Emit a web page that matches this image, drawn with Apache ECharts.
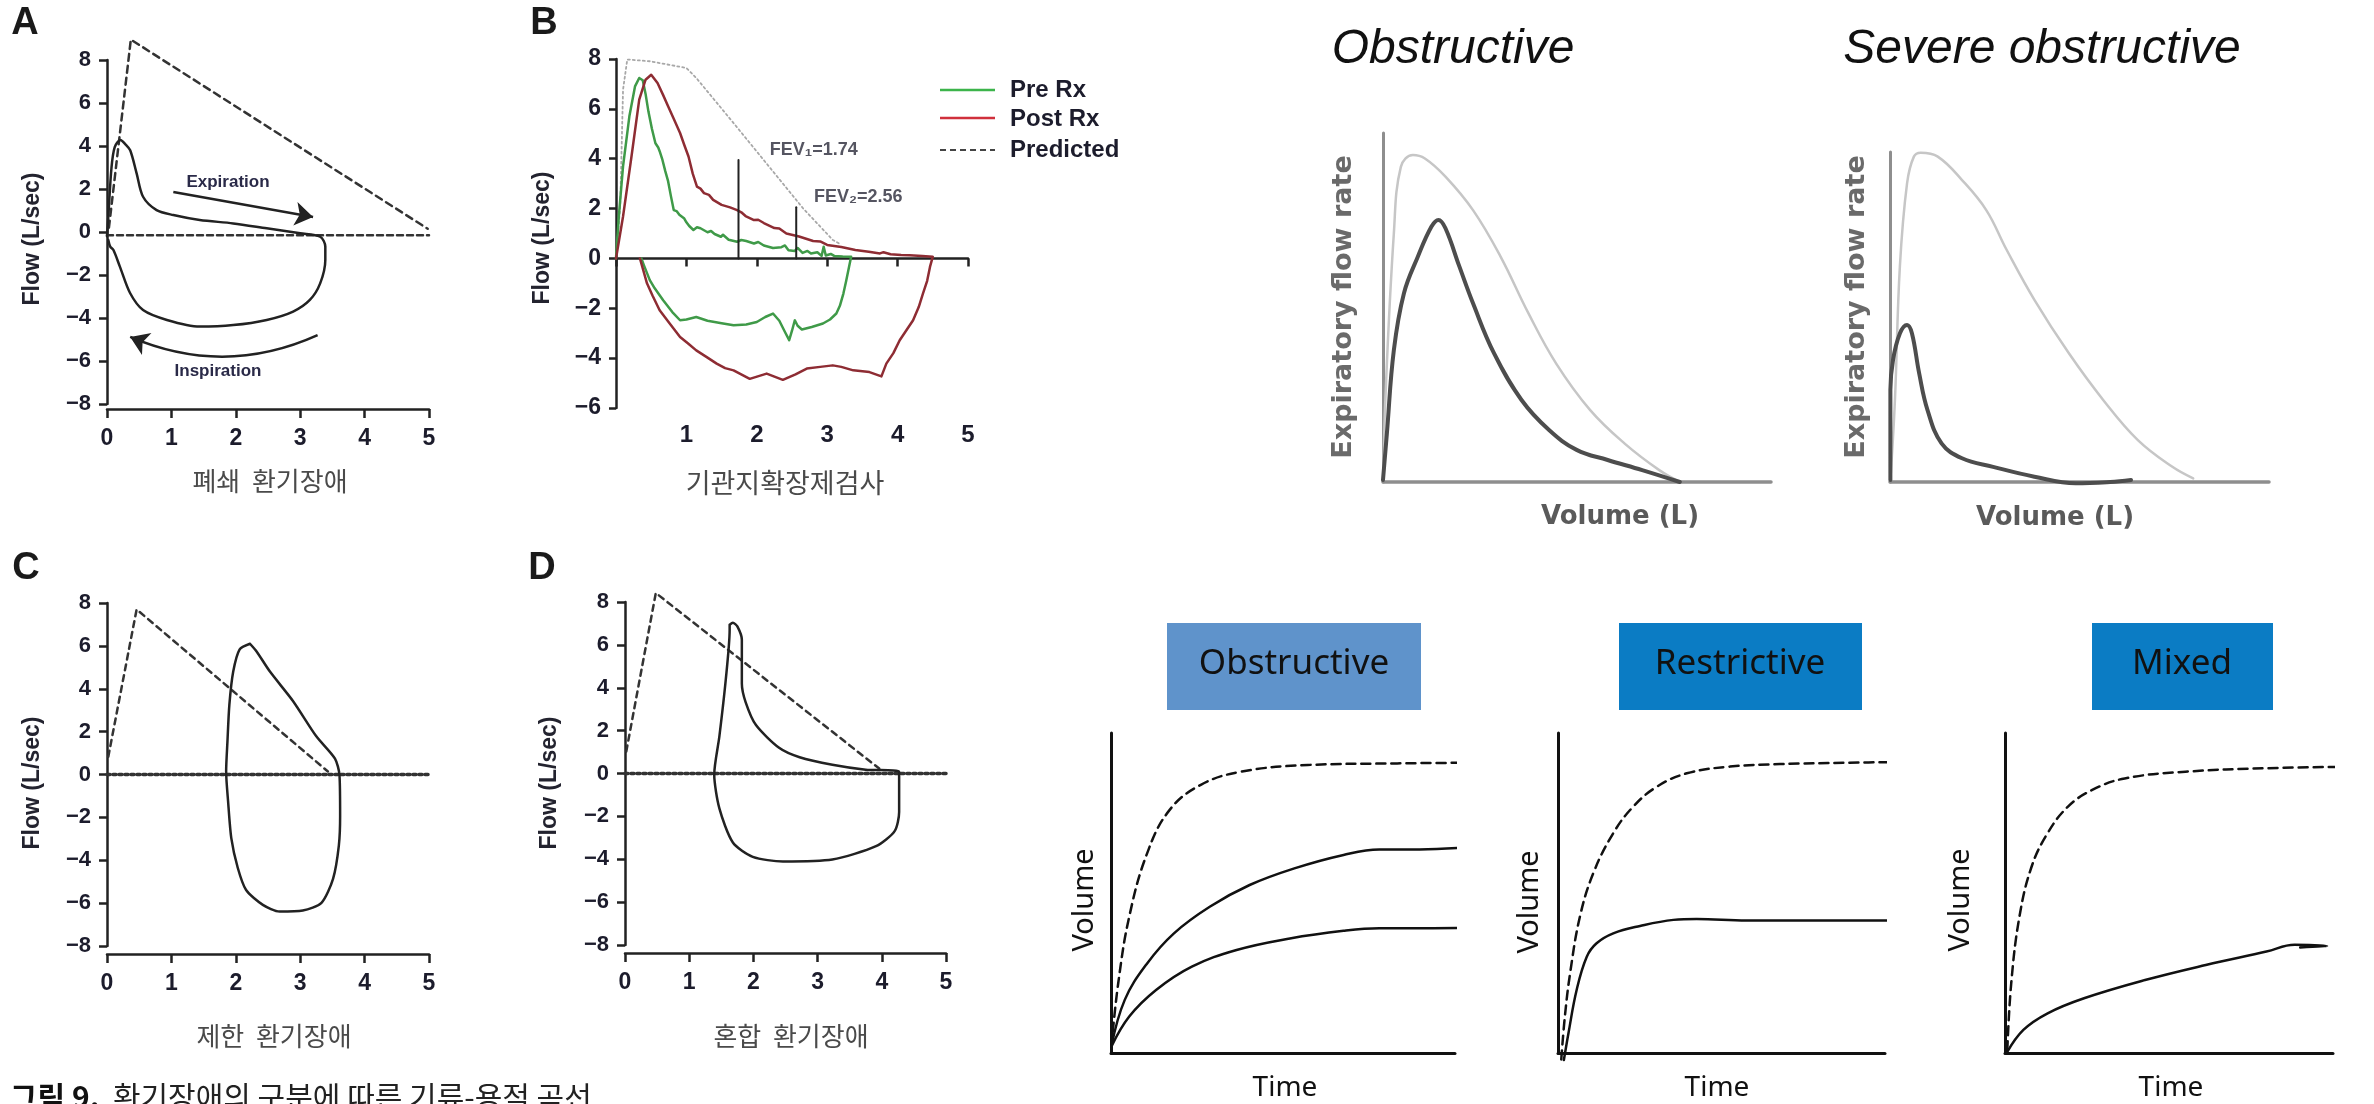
<!DOCTYPE html>
<html>
<head>
<meta charset="utf-8">
<title>환기장애의 구분에 따른 기류-용적 곡선</title>
<script src="https://cdn.jsdelivr.net/npm/echarts/dist/echarts.min.js"></script>
<style>
  html, body { margin: 0; padding: 0; background: #fff; }
  #c { width: 2374px; height: 1104px; }
</style>
</head>
<body>
<div id="c"></div>
<script>
// ---------- Flow-volume loops (volume in L, flow in L/sec) ----------
const volumeTicks = [0, 1, 2, 3, 4, 5];
const loopFlowTicks = [-8, -6, -4, -2, 0, 2, 4, 6, 8];
const bronchoFlowTicks = [-6, -4, -2, 0, 2, 4, 6, 8];

// A: obstructive
const loopA = [[0,-0.2],[0.02,0.7],[0.07,3.0],[0.12,3.95],[0.21,4.28],[0.28,4.1],[0.36,3.8],[0.46,2.73],[0.56,1.64],[0.77,1.02],[1.03,0.79],[1.44,0.56],[1.96,0.4],[2.48,0.17],[3.0,-0.06],[3.31,-0.22],[3.39,-0.68],[3.39,-1.3],[3.31,-2.39],[3.15,-3.16],[2.89,-3.7],[2.48,-4.09],[1.96,-4.33],[1.44,-4.4],[0.93,-4.09],[0.56,-3.63],[0.36,-2.85],[0.2,-1.61],[0.1,-0.84],[0.05,-0.68],[0.02,-0.37]];
const predictedA = [[0.03,0.2],[0.37,8.95],[4.98,0.15]];
const baselineA = [[0,-0.15],[5,-0.15]];
const expirationArrow = [[1.03,1.86],[3.2,0.7]];
const inspirationArrow = [[3.27,-4.8],[0.36,-4.88]];

// B: bronchodilator test
const preRx = [[0,0],[0.04,1.68],[0.1,3.69],[0.19,5.7],[0.27,6.9],[0.33,7.24],[0.38,7.15],[0.42,6.6],[0.46,5.9],[0.51,5.2],[0.56,4.62],[0.6,4.45],[0.62,4.3],[0.66,3.95],[0.7,3.5],[0.74,3.1],[0.78,2.5],[0.82,1.94],[0.86,1.9],[0.9,1.75],[0.97,1.6],[1.0,1.45],[1.04,1.3],[1.1,1.14],[1.15,1.25],[1.2,1.21],[1.3,1.05],[1.35,1.1],[1.4,0.98],[1.49,0.87],[1.52,0.95],[1.6,0.75],[1.72,0.67],[1.78,0.74],[1.85,0.7],[1.96,0.6],[2.02,0.66],[2.1,0.52],[2.23,0.42],[2.35,0.45],[2.4,0.52],[2.45,0.33],[2.54,0.3],[2.58,0.42],[2.65,0.22],[2.72,0.3],[2.77,0.2],[2.86,0.25],[2.92,0.1],[2.95,0.47],[2.98,0.12],[3.05,0.18],[3.1,0.1],[3.22,0.08],[3.34,0.07],
  [3.34,0],[3.31,-0.34],[3.27,-0.9],[3.23,-1.41],[3.18,-1.9],[3.13,-2.21],[3.04,-2.45],[2.94,-2.61],[2.78,-2.75],[2.64,-2.85],[2.58,-2.7],[2.54,-2.48],[2.5,-2.9],[2.46,-3.28],[2.4,-2.95],[2.32,-2.5],[2.23,-2.21],[2.12,-2.35],[2.0,-2.55],[1.85,-2.65],[1.67,-2.68],[1.5,-2.6],[1.3,-2.5],[1.14,-2.35],[1.0,-2.45],[0.91,-2.48],[0.8,-2.15],[0.67,-1.68],[0.55,-1.2],[0.48,-0.87],[0.4,-0.3],[0.36,0]];
const postRx = [[0,0],[0.1,1.68],[0.22,4.09],[0.33,6.37],[0.42,7.17],[0.5,7.37],[0.59,7.04],[0.67,6.55],[0.74,6.1],[0.82,5.6],[0.91,5.03],[0.97,4.55],[1.03,4.09],[1.09,3.4],[1.15,2.88],[1.2,2.8],[1.25,2.62],[1.32,2.55],[1.38,2.35],[1.5,2.15],[1.62,2.05],[1.72,1.94],[1.78,1.85],[1.84,1.7],[1.96,1.54],[2.02,1.55],[2.1,1.42],[2.25,1.22],[2.32,1.2],[2.42,1.0],[2.6,0.88],[2.8,0.7],[2.9,0.68],[3.0,0.54],[3.2,0.46],[3.4,0.34],[3.59,0.27],[3.75,0.2],[3.8,0.25],[3.9,0.17],[4.05,0.14],[4.17,0.13],[4.35,0.1],[4.5,0.07],
  [4.5,0],[4.46,-0.34],[4.42,-0.9],[4.36,-1.41],[4.3,-1.95],[4.22,-2.48],[4.12,-2.9],[4.03,-3.28],[3.94,-3.8],[3.84,-4.22],[3.77,-4.73],[3.6,-4.56],[3.37,-4.49],[3.2,-4.35],[3.08,-4.29],[2.9,-4.35],[2.71,-4.42],[2.55,-4.65],[2.37,-4.87],[2.14,-4.62],[1.9,-4.83],[1.67,-4.49],[1.55,-4.4],[1.43,-4.22],[1.3,-3.98],[1.14,-3.69],[1.02,-3.4],[0.91,-3.15],[0.76,-2.6],[0.62,-2.08],[0.52,-1.5],[0.44,-1.0],[0.38,-0.4],[0.34,0]];
const predictedB = [[0,0],[0.06,2.1],[0.1,6.77],[0.16,7.98],[0.48,7.91],[1.0,7.64],[1.14,7.24],[1.67,5.43],[2.66,2.0],[3.08,0.74],[3.2,0.55]];
const fevNames = ['FEV\u2081', 'FEV\u2082'];
const fevVolumes = [1.74, 2.56];
const fevHeights = [3.95, 2.05];
const fevLabelAt = [[2.81, 4.33], [3.44, 2.45]];

// C: restrictive
const loopC = [[2.22,6.1],[2.06,5.84],[1.96,4.8],[1.9,3.25],[1.87,1.52],[1.85,0.14],[1.88,-1.24],[1.93,-2.97],[2.03,-4.35],[2.16,-5.39],[2.42,-6.08],[2.68,-6.39],[3.04,-6.34],[3.33,-5.99],[3.51,-4.87],[3.6,-3.32],[3.62,-1.93],[3.61,-0.03],[3.54,0.74],[3.25,1.78],[2.89,3.42],[2.53,4.8],[2.32,5.75],[2.22,6.1]];
const predictedC = [[0.02,0.83],[0.46,7.7],[3.43,0.14]];

// D: mixed
const loopD = [[1.63,6.94],[1.68,7.03],[1.75,6.86],[1.82,6.24],[1.82,4.2],[1.88,3.32],[2.04,2.26],[2.4,1.2],[2.72,0.76],[3.23,0.41],[3.75,0.18],[4.27,0.09],[4.27,-1.8],[4.2,-2.69],[3.91,-3.39],[3.23,-4.01],[2.46,-4.1],[1.99,-3.89],[1.68,-3.22],[1.47,-1.63],[1.39,-0.04],[1.47,1.73],[1.57,4.39],[1.63,6.69],[1.63,6.94]];
const predictedD = [[0.02,1.03],[0.48,8.42],[3.96,0.23]];
const zeroLine = [[0,0],[5,0]];

// ---------- Expiratory flow-volume sketches (relative units 0-10) ----------
const fvObstructivePredicted = [[0.01,0.06],[0.06,2.35],[0.28,7.13],[0.46,9.03],[0.77,9.37],[1.08,9.27],[1.61,8.75],[2.32,7.79],[3.03,6.46],[3.75,4.83],[4.46,3.4],[5.34,2.06],[6.23,1.1],[7.12,0.34],[7.65,0]];
const fvObstructiveMeasured = [[0,0.06],[0.1,1.39],[0.28,3.78],[0.54,5.41],[0.9,6.46],[1.25,7.32],[1.43,7.51],[1.61,7.27],[1.97,6.17],[2.32,5.12],[2.86,3.69],[3.57,2.35],[4.28,1.49],[4.99,0.92],[5.79,0.63],[6.68,0.34],[7.65,0]];
const fvSeverePredicted = [[0.01,0.06],[0.13,2.48],[0.26,6.52],[0.45,9.05],[0.63,9.86],[0.81,9.98],[1.26,9.86],[1.9,9.15],[2.54,8.24],[3.08,7.03],[3.81,5.52],[4.72,3.9],[5.63,2.48],[6.54,1.27],[7.45,0.46],[8.0,0.11]];
const fvSevereMeasured = [[0.01,0.06],[0.01,2.79],[0.08,3.7],[0.26,4.5],[0.45,4.76],[0.58,4.5],[0.77,3.29],[0.99,2.18],[1.36,1.17],[1.9,0.72],[2.72,0.46],[3.81,0.16],[4.9,-0.04],[5.81,0],[6.36,0.06]];

// ---------- Volume-time sketches (relative units 0-10) ----------
const vtObstructivePredicted = [[0.01,0.2],[0.21,2.18],[0.53,4.26],[1.05,6.24],[1.7,7.59],[2.61,8.38],[3.78,8.79],[5.72,9.0],[8.32,9.05],[10.26,9.07]];
const vtObstructiveMild = [[0.01,0.2],[0.4,1.66],[1.05,2.8],[1.83,3.74],[2.87,4.57],[4.03,5.25],[5.33,5.77],[6.76,6.19],[7.8,6.36],[8.97,6.36],[10.4,6.43]];
const vtObstructiveSevere = [[0.01,0.2],[0.53,1.14],[1.31,1.97],[2.35,2.7],[3.65,3.22],[5.2,3.58],[6.76,3.82],[7.8,3.9],[9.36,3.9],[10.46,3.91]];
const vtRestrictivePredicted = [[0.1,-0.2],[0.21,1.14],[0.37,2.49],[0.67,4.26],[1.08,5.62],[1.69,6.87],[2.3,7.7],[3.02,8.32],[3.94,8.74],[5.26,8.95],[6.79,9.03],[8.83,9.07],[10.87,9.1]];
const vtRestrictiveMeasured = [[0.18,-0.22],[0.32,0.62],[0.57,1.97],[0.88,3.01],[1.18,3.43],[1.69,3.74],[2.51,3.97],[3.53,4.16],[4.24,4.19],[5.77,4.14],[7.81,4.14],[10.41,4.14]];
const vtMixedPredicted = [[0.07,0.09],[0.19,2.18],[0.44,4.26],[0.81,5.82],[1.3,6.87],[1.92,7.7],[2.66,8.22],[3.65,8.58],[5.5,8.79],[7.97,8.9],[10.8,8.95]];
const vtMixedMeasured = [[0.05,0.0],[0.56,0.72],[1.3,1.24],[2.41,1.71],[4.27,2.28],[6.12,2.75],[7.97,3.17],[8.83,3.38],[9.82,3.34],[9.0,3.3]];

const legendNames = ['Pre Rx', 'Post Rx', 'Predicted'];
const patternNames = ['Obstructive', 'Restrictive', 'Mixed'];

// ---------- styling ----------
const INK = '#222';
const NUM = 'Liberation Sans, Arial, Helvetica, sans-serif';
const KR = 'Noto Sans CJK KR, Noto Sans CJK SC, sans-serif';
const GREEN = '#3f9a48';
const RED = '#8e2c33';
const fmtFlow = v => v < 0 ? '\u2212' + Math.abs(v) : String(v);

const gridBoxes = [
  { left: 107,  top: 60,  width: 322, height: 344 },  // A
  { left: 616,  top: 59,  width: 352, height: 349 },  // B
  { left: 107,  top: 603, width: 322, height: 343 },  // C
  { left: 625,  top: 602, width: 321, height: 343 },  // D
  { left: 1383, top: 133, width: 388, height: 349 },  // flow-volume, obstructive
  { left: 1890, top: 152, width: 379, height: 330 },  // flow-volume, severe
  { left: 1111, top: 733, width: 344, height: 320 },  // volume-time, obstructive
  { left: 1558, top: 733, width: 327, height: 320 },  // volume-time, restrictive
  { left: 2005, top: 733, width: 328, height: 320 }   // volume-time, mixed
];
const grid = gridBoxes.map(g => Object.assign({ containLabel: false, outerBoundsMode: 'none' }, g));

function loopX(gi, offset) {
  return {
    gridIndex: gi, type: 'value',
    min: volumeTicks[0], max: volumeTicks[volumeTicks.length - 1], interval: 1, offset,
    axisLine: { show: true, onZero: false, lineStyle: { color: INK, width: 2.5 } },
    axisTick: { show: true, length: 9, lineStyle: { color: INK, width: 2.5 } },
    axisLabel: { show: true, margin: 18, fontSize: 23, fontWeight: 'bold', fontFamily: NUM, color: '#1c1c2c', showMinLabel: true, showMaxLabel: true },
    splitLine: { show: false }
  };
}
function loopY(gi) {
  return {
    gridIndex: gi, type: 'value',
    min: loopFlowTicks[0], max: loopFlowTicks[loopFlowTicks.length - 1], interval: 2,
    axisLine: { show: true, onZero: false, lineStyle: { color: INK, width: 2.5 } },
    axisTick: { show: true, length: 8, lineStyle: { color: INK, width: 2.5 } },
    axisLabel: { show: true, margin: 16, fontSize: 22, fontWeight: 'bold', fontFamily: NUM, color: '#1c1c2c', formatter: fmtFlow, showMinLabel: true, showMaxLabel: true },
    splitLine: { show: false }
  };
}
function plainAxis(gi, color, width) {
  return {
    gridIndex: gi, type: 'value', min: 0, max: 10,
    axisLine: { show: true, onZero: false, lineStyle: { color, width } },
    axisTick: { show: false }, axisLabel: { show: false }, splitLine: { show: false }
  };
}

const xAxis = [
  loopX(0, 5),
  {
    gridIndex: 1, type: 'value', min: 0, max: 5, interval: 1,
    axisLine: { show: true, onZero: true, lineStyle: { color: INK, width: 2.5 } },
    axisTick: { show: true, length: 8, lineStyle: { color: INK, width: 2.5 } },
    axisLabel: { show: true, margin: 15, fontSize: 24, fontWeight: 'bold', fontFamily: NUM, color: '#1c1c2c', formatter: v => v === 0 ? '' : String(v), showMaxLabel: true },
    splitLine: { show: false }
  },
  loopX(2, 8),
  loopX(3, 8),
  plainAxis(4, '#8e8e8e', 3.5),
  plainAxis(5, '#8e8e8e', 3.5),
  plainAxis(6, '#111', 3),
  plainAxis(7, '#111', 3),
  plainAxis(8, '#111', 3)
];
const yAxis = [
  loopY(0),
  {
    gridIndex: 1, type: 'value',
    min: bronchoFlowTicks[0], max: bronchoFlowTicks[bronchoFlowTicks.length - 1], interval: 2,
    axisLine: { show: true, onZero: false, lineStyle: { color: INK, width: 2.5 } },
    axisTick: { show: true, length: 7, lineStyle: { color: INK, width: 2.5 } },
    axisLabel: { show: true, margin: 15, fontSize: 23, fontWeight: 'bold', fontFamily: NUM, color: '#1c1c2c', formatter: fmtFlow, showMinLabel: true, showMaxLabel: true },
    splitLine: { show: false }
  },
  loopY(2),
  loopY(3),
  plainAxis(4, '#8e8e8e', 3),
  plainAxis(5, '#8e8e8e', 3),
  plainAxis(6, '#111', 3),
  plainAxis(7, '#111', 3),
  plainAxis(8, '#111', 3)
];

function curve(gi, data, color, width, opts) {
  opts = opts || {};
  return {
    type: 'line', xAxisIndex: gi, yAxisIndex: gi, data,
    showSymbol: false, symbol: 'none', clip: false, silent: true, animation: false,
    smooth: opts.smooth === undefined ? false : opts.smooth,
    lineStyle: { color, width, type: opts.dash || 'solid', cap: 'round', join: 'round' },
    z: opts.z || 3
  };
}
function arrow(gi, coords, curveness) {
  return {
    type: 'lines', coordinateSystem: 'cartesian2d', xAxisIndex: gi, yAxisIndex: gi,
    symbol: ['none', 'arrow'], symbolSize: 18, silent: true, animation: false,
    lineStyle: { color: INK, width: 2.5, opacity: 1, curveness },
    data: [{ coords }]
  };
}

const series = [
  // A
  curve(0, baselineA, '#333', 2.5, { dash: [6, 4] }),
  curve(0, predictedA, '#333', 2.5, { dash: [7, 5] }),
  curve(0, loopA, INK, 2.5, { smooth: 0.3 }),
  arrow(0, expirationArrow, 0),
  arrow(0, inspirationArrow, 0.22),
  // B
  curve(1, predictedB, '#a8a8a8', 1.8, { dash: [2, 3] }),
  curve(1, preRx, GREEN, 2.5),
  curve(1, postRx, RED, 2.5),
  ...fevVolumes.map((v, i) => curve(1, [[v, 0], [v, fevHeights[i]]], INK, 2, { z: 4 })),
  {
    type: 'scatter', xAxisIndex: 1, yAxisIndex: 1, symbolSize: 0, silent: true, animation: false,
    data: fevLabelAt.map((p, i) => ({ value: p, name: fevNames[i] + '=' + fevVolumes[i].toFixed(2) })),
    label: { show: true, position: 'inside', formatter: p => p.name, fontSize: 18, fontWeight: 'bold', fontFamily: NUM, color: '#2a2a3a' }
  },
  // C
  curve(2, zeroLine, '#333', 3.5, { dash: [3, 3] }),
  curve(2, predictedC, '#333', 2.5, { dash: [6, 5] }),
  curve(2, loopC, INK, 2.5, { smooth: 0.25 }),
  // D
  curve(3, zeroLine, '#333', 3.5, { dash: [3, 3] }),
  curve(3, predictedD, '#333', 2.5, { dash: [6, 5] }),
  curve(3, loopD, INK, 2.5, { smooth: 0.25 }),
  // flow-volume sketches
  curve(4, fvObstructivePredicted, '#c6c6c6', 2.5, { smooth: 0.4 }),
  curve(4, fvObstructiveMeasured, '#4d4d4d', 4, { smooth: 0.4 }),
  curve(5, fvSeverePredicted, '#c6c6c6', 2.5, { smooth: 0.4 }),
  curve(5, fvSevereMeasured, '#4d4d4d', 4, { smooth: 0.4 }),
  // volume-time sketches
  curve(6, vtObstructivePredicted, '#111', 2.5, { smooth: 0.4, dash: [9, 6] }),
  curve(6, vtObstructiveMild, '#111', 2.5, { smooth: 0.4 }),
  curve(6, vtObstructiveSevere, '#111', 2.5, { smooth: 0.4 }),
  curve(7, vtRestrictivePredicted, '#111', 2.5, { smooth: 0.4, dash: [9, 6] }),
  curve(7, vtRestrictiveMeasured, '#111', 2.5, { smooth: 0.4 }),
  curve(8, vtMixedPredicted, '#111', 2.5, { smooth: 0.4, dash: [9, 6] }),
  curve(8, vtMixedMeasured, '#111', 2.5, { smooth: 0.4 })
];

// ---------- free text, legend and boxes ----------
function txt(x, y, text, o) {
  o = o || {};
  return {
    type: 'text', x, y, rotation: o.rot || 0, silent: true,
    style: {
      text, fontSize: o.size || 20, fontFamily: o.family || NUM,
      fontWeight: o.weight || 'normal', fontStyle: o.italic ? 'italic' : 'normal',
      fill: o.color || INK, align: o.align || 'center', verticalAlign: o.valign || 'middle',
      rich: o.rich
    }
  };
}
const ROT = Math.PI / 2;
const graphic = [
  // panel letters
  txt(25, 24, 'A', { size: 38, weight: 'bold', color: '#1a1a1a' }),
  txt(544, 24, 'B', { size: 38, weight: 'bold', color: '#1a1a1a' }),
  txt(26, 569, 'C', { size: 38, weight: 'bold', color: '#1a1a1a' }),
  txt(542, 569, 'D', { size: 38, weight: 'bold', color: '#1a1a1a' }),
  // axis names
  txt(33, 239, 'Flow (L/sec)', { size: 23, weight: 'bold', rot: ROT, color: '#23232f' }),
  txt(543, 238, 'Flow (L/sec)', { size: 23, weight: 'bold', rot: ROT, color: '#23232f' }),
  txt(33, 783, 'Flow (L/sec)', { size: 23, weight: 'bold', rot: ROT, color: '#23232f' }),
  txt(550, 783, 'Flow (L/sec)', { size: 23, weight: 'bold', rot: ROT, color: '#23232f' }),
  // panel subtitles
  txt(270, 481, '폐쇄  환기장애', { size: 26, family: KR, color: '#4a4a4a' }),
  txt(785, 483, '기관지확장제검사', { size: 27, family: KR, color: '#4a4a4a' }),
  txt(274, 1036, '제한  환기장애', { size: 26, family: KR, color: '#4a4a4a' }),
  txt(791, 1036, '혼합  환기장애', { size: 26, family: KR, color: '#4a4a4a' }),
  // A annotations
  txt(228, 182, 'Expiration', { size: 17, weight: 'bold', color: '#2a2a48' }),
  txt(218, 371, 'Inspiration', { size: 17, weight: 'bold', color: '#2a2a48' }),
  // B legend
  { type: 'line', silent: true, shape: { x1: 940, y1: 90, x2: 995, y2: 90 }, style: { stroke: '#3cb44b', lineWidth: 2.5 } },
  { type: 'line', silent: true, shape: { x1: 940, y1: 118, x2: 995, y2: 118 }, style: { stroke: '#d0303c', lineWidth: 2.5 } },
  { type: 'line', silent: true, shape: { x1: 940, y1: 150, x2: 995, y2: 150 }, style: { stroke: '#444', lineWidth: 2, lineDash: [6, 4] } },
  txt(1010, 90, legendNames[0], { size: 24, weight: 'bold', align: 'left', color: '#1c1c2c' }),
  txt(1010, 119, legendNames[1], { size: 24, weight: 'bold', align: 'left', color: '#1c1c2c' }),
  txt(1010, 150, legendNames[2], { size: 24, weight: 'bold', align: 'left', color: '#1c1c2c' }),
  // flow-volume sketch titles and axis names
  txt(1453, 50, 'Obstructive', { size: 48, italic: true, color: '#111' }),
  txt(2042, 50, 'Severe obstructive', { size: 48, italic: true, color: '#111' }),
  txt(1344, 307, 'Expiratory flow rate', { size: 27, weight: 'bold', family: 'DejaVu Sans, sans-serif', rot: ROT, color: '#6a6a6a' }),
  txt(1857, 307, 'Expiratory flow rate', { size: 27, weight: 'bold', family: 'DejaVu Sans, sans-serif', rot: ROT, color: '#6a6a6a' }),
  txt(1620, 517, 'Volume (L)', { size: 26, weight: 'bold', family: 'DejaVu Sans, sans-serif', color: '#5a5a5a' }),
  txt(2055, 518, 'Volume (L)', { size: 26, weight: 'bold', family: 'DejaVu Sans, sans-serif', color: '#5a5a5a' }),
  // volume-time boxes
  { type: 'rect', silent: true, shape: { x: 1167, y: 623, width: 254, height: 87 }, style: { fill: '#5f93cb' } },
  { type: 'rect', silent: true, shape: { x: 1619, y: 623, width: 243, height: 87 }, style: { fill: '#0b7cc4' } },
  { type: 'rect', silent: true, shape: { x: 2092, y: 623, width: 181, height: 87 }, style: { fill: '#0b7cc4' } },
  txt(1294, 664, patternNames[0], { size: 35, family: 'Noto Sans, sans-serif', color: '#111' }),
  txt(1740, 664, patternNames[1], { size: 35, family: 'Noto Sans, sans-serif', color: '#111' }),
  txt(2182, 664, patternNames[2], { size: 35, family: 'Noto Sans, sans-serif', color: '#111' }),
  // volume-time axis names
  txt(1085, 900, 'Volume', { size: 29, family: 'Noto Sans, sans-serif', rot: ROT, color: '#111' }),
  txt(1530, 902, 'Volume', { size: 29, family: 'Noto Sans, sans-serif', rot: ROT, color: '#111' }),
  txt(1961, 900, 'Volume', { size: 29, family: 'Noto Sans, sans-serif', rot: ROT, color: '#111' }),
  txt(1285, 1088, 'Time', { size: 28, family: 'Noto Sans, sans-serif', color: '#111' }),
  txt(1717, 1088, 'Time', { size: 28, family: 'Noto Sans, sans-serif', color: '#111' }),
  txt(2171, 1088, 'Time', { size: 28, family: 'Noto Sans, sans-serif', color: '#111' }),
  // figure caption
  txt(10, 1082, '{b|그림 9.}{n|  환기장애의 구분에 따른 기류-용적 곡선}', {
    align: 'left', valign: 'top', size: 30, family: KR,
    rich: {
      b: { fontSize: 30, fontWeight: 'bold', fontFamily: KR, fill: '#111' },
      n: { fontSize: 30, fontFamily: KR, fill: '#222' }
    }
  })
];

const chart = echarts.init(document.getElementById('c'), null, { renderer: 'canvas', width: 2374, height: 1104 });
chart.setOption({
  backgroundColor: '#ffffff',
  animation: false,
  grid, xAxis, yAxis, series,
  graphic: { elements: graphic }
});
</script>
</body>
</html>
